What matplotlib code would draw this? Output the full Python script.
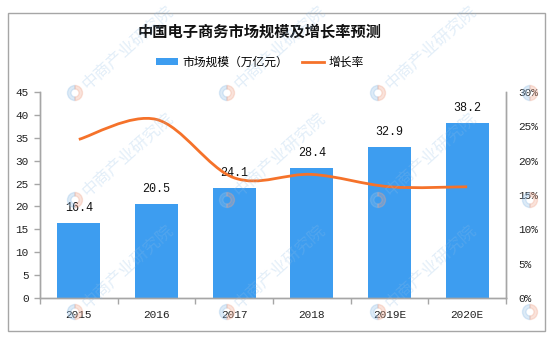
import matplotlib
matplotlib.use("Agg")
import matplotlib.pyplot as plt
import numpy as np
from matplotlib.path import Path
from matplotlib.patches import PathPatch, Rectangle, Wedge
from matplotlib.ticker import FixedLocator, FuncFormatter

plt.rcParams["font.family"] = ["Noto Sans CJK SC", "DejaVu Sans"]

years = ["2015", "2016", "2017", "2018", "2019E", "2020E"]
market_size = [16.4, 20.5, 24.1, 28.4, 32.9, 38.2]   # 万亿元
growth_rate = [23.1, 26.0, 17.5, 18.0, 16.2, 16.2]   # %

BAR_BLUE = "#3d9df0"
LINE_ORANGE = "#f5722a"
AXIS_GREY = "#a6a6a6"
NUM_FONT = "Liberation Mono"

W, H = 558, 346
fig = plt.figure(figsize=(W / 100, H / 100), dpi=100)


def px(x, y):
    """pixel position (from top-left) -> figure fraction"""
    return x / W, 1 - y / H


# outer frame
fig.patches.append(Rectangle(px(8, 331), (545 - 8) / W, (331 - 13) / H,
                             transform=fig.transFigure, fill=False,
                             edgecolor=AXIS_GREY, linewidth=1.0))

left, bottom = px(40, 298)
right, top = px(506, 92)
ax = fig.add_axes([left, bottom, right - left, top - bottom])
ax2 = ax.twinx()

x = np.arange(len(years))
bars = ax.bar(x, market_size, width=0.55, color=BAR_BLUE, zorder=2,
              label="市场规模（万亿元）")
for xi, v in zip(x, market_size):
    ax.text(xi, v + 2.0, f"{v:.1f}", ha="center", va="bottom",
            fontsize=8.5, family=NUM_FONT, color="#111111")

ax.set_xlim(-0.5, len(years) - 0.5)
ax.set_ylim(0, 45)
ax.set_yticks(np.arange(0, 46, 5))
ax.set_xticks(x)
ax.set_xticklabels(years, family=NUM_FONT, fontsize=8, color="#222222")
ax.xaxis.set_minor_locator(FixedLocator(np.arange(-0.5, len(years), 1.0)))
ax.tick_params(axis="x", which="major", length=0, pad=9)
ax.tick_params(axis="x", which="minor", length=4, color=AXIS_GREY, width=1)
ax.tick_params(axis="y", length=4, color=AXIS_GREY, width=1, pad=4,
               labelsize=8, labelcolor="#222222")
for lab in ax.get_yticklabels():
    lab.set_family(NUM_FONT)

# smoothed growth-rate curve (Catmull-Rom through the yearly points)
pts = np.column_stack([x, growth_rate]).astype(float)
ext = np.vstack([pts[0], pts, pts[-1]])
verts = [pts[0]]
codes = [Path.MOVETO]
for i in range(len(pts) - 1):
    p0, p1, p2, p3 = ext[i], ext[i + 1], ext[i + 2], ext[i + 3]
    verts += [p1 + (p2 - p0) / 6, p2 - (p3 - p1) / 6, p2]
    codes += [Path.CURVE4] * 3
ax2.add_patch(PathPatch(Path(verts, codes), fill=False, edgecolor=LINE_ORANGE,
                        linewidth=2.0, zorder=3))
line_handle, = ax2.plot([], [], color=LINE_ORANGE, linewidth=2.0, label="增长率")

ax2.set_ylim(0, 30)
ax2.set_yticks(np.arange(0, 31, 5))
ax2.yaxis.set_major_formatter(FuncFormatter(lambda v, _: f"{v:.0f}%"))
ax2.tick_params(axis="y", length=0, pad=9, labelsize=8, labelcolor="#222222")
for lab in ax2.get_yticklabels():
    lab.set_family(NUM_FONT)

for a in (ax, ax2):
    a.spines["top"].set_visible(False)
    for s in ("left", "right", "bottom"):
        a.spines[s].set_color(AXIS_GREY)
        a.spines[s].set_linewidth(1.0)

fig.text(*px(260, 32), "中国电子商务市场规模及增长率预测", ha="center", va="center",
         fontsize=11, fontweight="bold", color="#111111")
fig.legend(handles=[bars, line_handle], labels=["市场规模（万亿元）", "增长率"],
           loc="center", bbox_to_anchor=px(260, 62), ncol=2, frameon=False,
           fontsize=8.5, handlelength=1.8, handleheight=0.5, handletextpad=0.4,
           columnspacing=1.2)

# 中商产业研究院 watermark tiles
for wy in (93, 200, 312):
    for wx in (75, 227, 378, 530):
        cx, cy = wx / 100, (H - wy) / 100
        fig.patches.append(Wedge((cx, cy), 0.075, 90, 270, width=0.035,
                                 transform=fig.dpi_scale_trans,
                                 color="#8fbde6", alpha=0.3, zorder=10))
        fig.patches.append(Wedge((cx, cy), 0.075, -90, 90, width=0.035,
                                 transform=fig.dpi_scale_trans,
                                 color="#f0a58a", alpha=0.3, zorder=10))
        if wx < 500:
            fig.text(*px(wx + 10, wy - 6), "中商产业研究院", rotation=42,
                     rotation_mode="anchor", ha="left", va="center", fontsize=12,
                     color="#8fbde6", alpha=0.25, zorder=10)

fig.savefig("out.png", dpi=100)
